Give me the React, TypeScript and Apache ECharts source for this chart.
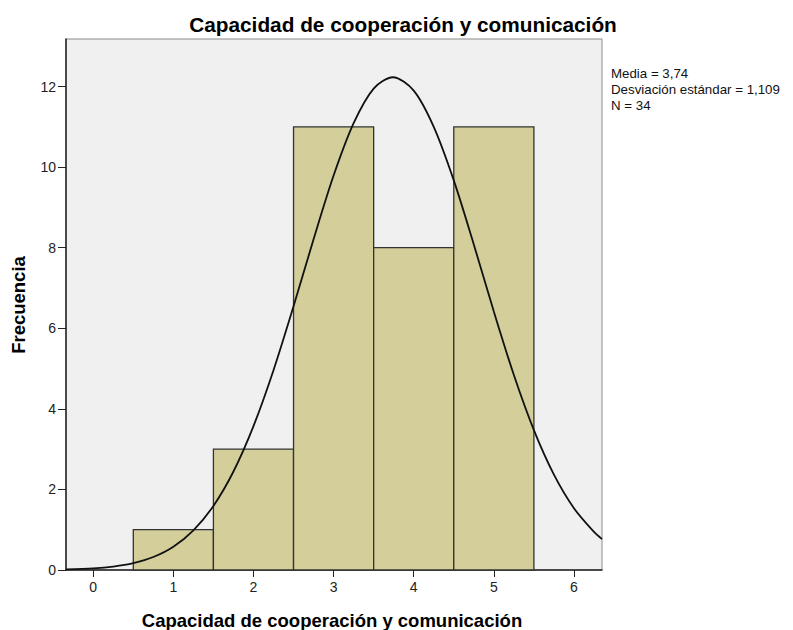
import React, { useEffect, useRef } from "react";
import * as echarts from "echarts";

const titleText = "Capacidad de cooperación y comunicación";
const xAxisName = "Capacidad de cooperación y comunicación";
const yAxisName = "Frecuencia";
const statLines = ["Media = 3,74", "Desviación estándar = 1,109", "N = 34"];

// histogram bins (lower edge, upper edge) and frequencies
const binLow = [0.5, 1.5, 2.5, 3.5, 4.5];
const binHigh = [1.5, 2.5, 3.5, 4.5, 5.5];
const counts = [1, 3, 11, 8, 11];

// normal curve
const curveX = [-0.34, 0, 0.25, 0.5, 0.75, 1, 1.25, 1.5, 1.75, 2, 2.25, 2.5, 2.75, 3, 3.25, 3.5, 3.74, 4, 4.25, 4.5, 4.75, 5, 5.25, 5.5, 5.75, 6, 6.25, 6.35];
const curveY = [0.015, 0.041, 0.086, 0.171, 0.323, 0.578, 0.984, 1.59, 2.445, 3.572, 4.96, 6.546, 8.21, 9.79, 11.09, 11.95, 12.23, 11.9, 11.0, 9.67, 8.08, 6.415, 4.84, 3.472, 2.367, 1.533, 0.944, 0.767];

const xTicks = [0, 1, 2, 3, 4, 5, 6];
const yTicks = [0, 2, 4, 6, 8, 10, 12];

export default function App() {
  const ref = useRef<HTMLDivElement>(null);
  useEffect(() => {
    document.body.style.margin = "0";
    const chart = echarts.init(ref.current!, null, { renderer: "svg" });
    const font = "Arial, 'Liberation Sans', sans-serif";
    chart.setOption({
      animation: false,
      backgroundColor: "#ffffff",
      title: {
        text: titleText,
        left: 398,
        top: 9,
        textAlign: "center",
        textStyle: { fontFamily: font, fontSize: 20.8, fontWeight: "bold", color: "#000" },
      },
      grid: { left: 66, right: 191, top: 39, bottom: 60, show: true, backgroundColor: "#f0f0f0", borderColor: "#8a8a8a", borderWidth: 1 },
      xAxis: {
        type: "value",
        min: -0.34,
        max: 6.35,
        interval: 1,
        splitLine: { show: false },
        axisLine: { show: true, onZero: false, lineStyle: { color: "#222", width: 1.5 } },
        axisTick: { show: true, length: 7, lineStyle: { color: "#222" }, customValues: xTicks },
        axisLabel: { fontFamily: font, fontSize: 14, color: "#222", margin: 10, customValues: xTicks },
      },
      yAxis: {
        type: "value",
        min: 0,
        max: 13.18,
        interval: 2,
        splitLine: { show: false },
        axisLine: { show: true, onZero: false, lineStyle: { color: "#222", width: 1.5 } },
        axisTick: { show: true, length: 8, lineStyle: { color: "#222" }, customValues: yTicks },
        axisLabel: { fontFamily: font, fontSize: 14, color: "#222", margin: 10, customValues: yTicks },
      },
      graphic: [
        {
          type: "text",
          left: 611,
          top: 65,
          style: { text: statLines.join("\n"), fontFamily: font, fontSize: 13.3, lineHeight: 16, fill: "#111" },
        },
        {
          type: "text",
          x: 332,
          y: 620,
          style: { text: xAxisName, fontFamily: font, fontSize: 18.5, fontWeight: "bold", fill: "#000", align: "center", verticalAlign: "middle" },
        },
        {
          type: "text",
          x: 18,
          y: 305,
          rotation: Math.PI / 2,
          style: { text: yAxisName, fontFamily: font, fontSize: 18.5, fontWeight: "bold", fill: "#000", align: "center", verticalAlign: "middle" },
        },
      ],
      series: [
        {
          type: "custom",
          data: counts.map((c, i) => [binLow[i], binHigh[i], c]),
          renderItem: (params: any, api: any) => {
            const p0 = api.coord([api.value(0), 0]);
            const p1 = api.coord([api.value(1), api.value(2)]);
            return {
              type: "rect",
              shape: { x: p0[0], y: p1[1], width: p1[0] - p0[0], height: p0[1] - p1[1] },
              style: { fill: "#d3ce9a", stroke: "#333", lineWidth: 1.3 },
            };
          },
          encode: { x: [0, 1], y: 2 },
          z: 2,
        },
        {
          type: "line",
          data: curveX.map((x, i) => [x, curveY[i]]),
          smooth: 0.3,
          showSymbol: false,
          symbol: "none",
          lineStyle: { color: "#111", width: 1.8 },
          z: 3,
        },
      ],
    });
    return () => chart.dispose();
  }, []);
  return <div ref={ref} style={{ width: 793, height: 630 }} />;
}
